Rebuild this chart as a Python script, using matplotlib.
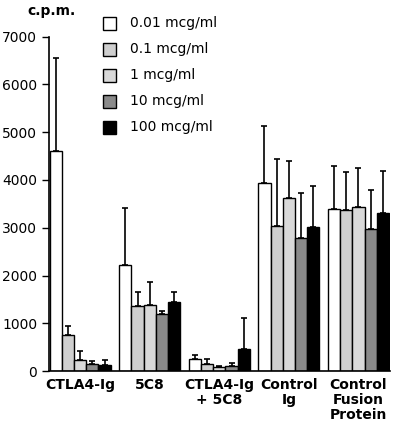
import numpy as np
import matplotlib
matplotlib.use("Agg")
import matplotlib.pyplot as plt
from matplotlib.patches import Rectangle

# Data
groups = ["CTLA4-Ig", "5C8", "CTLA4-Ig\n+ 5C8", "Control\nIg", "Control\nFusion\nProtein"]
doses = ["0.01 mcg/ml", "0.1 mcg/ml", "1 mcg/ml", "10 mcg/ml", "100 mcg/ml"]
colors = ["white", "#cfcfcf", "#d9d9d9", "#8a8a8a", "black"]

# mean c.p.m. per group, one list per dose
means = [
    [4600, 2215, 250, 3940, 3400],
    [750, 1365, 140, 3030, 3370],
    [240, 1390, 90, 3630, 3440],
    [140, 1185, 110, 2780, 2980],
    [130, 1440, 460, 3010, 3315],
]
# top of the error bars
err_top = [
    [6550, 3420, 335, 5140, 4300],
    [940, 1660, 250, 4430, 4170],
    [425, 1865, 110, 4400, 4250],
    [210, 1260, 175, 3725, 3780],
    [230, 1645, 1120, 3880, 4185],
]

fig = plt.figure(figsize=(4.0, 4.34), dpi=100)
ax = fig.add_axes([0.1225, 0.145, 0.853, 0.7705])

group_step = 5.7
for i in range(len(doses)):
    x = np.arange(len(groups)) * group_step + i + 0.5
    m = np.array(means[i])
    up = np.array(err_top[i]) - m
    ax.bar(x, m, width=1.0, color=colors[i], edgecolor="black", linewidth=1.0, zorder=2)
    ax.errorbar(x, m, yerr=[np.zeros_like(up), up], fmt="none", ecolor="black",
                elinewidth=1.2, capsize=2.5, capthick=1.2, zorder=1)

ax.set_ylim(0, 7000)
ax.set_xlim(-0.05, (len(groups) - 1) * group_step + 5.1)
ax.set_yticks(range(0, 7001, 1000))
ax.tick_params(axis="y", direction="out", length=5, width=1, labelsize=10)
ax.set_xticks(np.arange(len(groups)) * group_step + 2.5)
ax.set_xticklabels(groups, fontweight="bold", fontsize=10, linespacing=1.1)
ax.tick_params(axis="x", length=0, pad=5)
for s in ["top", "right"]:
    ax.spines[s].set_visible(False)
for s in ["left", "bottom"]:
    ax.spines[s].set_linewidth(1.2)

fig.text(0.128, 0.99, "c.p.m.", fontweight="bold", fontsize=10, ha="center", va="top")

# legend drawn by hand as squares and text
for i, lab in enumerate(doses):
    yc = 0.947 - i * 0.06
    fig.patches.append(Rectangle((0.258, yc - 0.016), 0.032, 0.03, transform=fig.transFigure,
                                 facecolor=colors[i], edgecolor="black", linewidth=1.0))
    fig.text(0.325, yc, lab, fontsize=10, va="center", ha="left")

fig.savefig("out.png", dpi=100)
